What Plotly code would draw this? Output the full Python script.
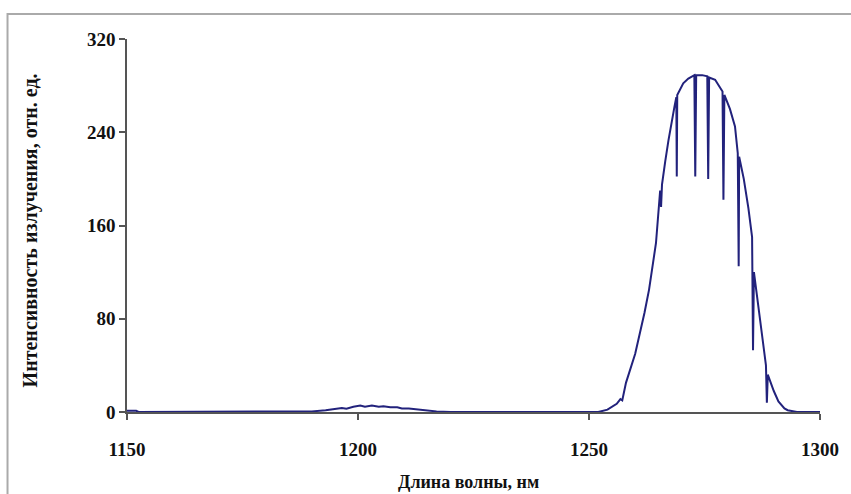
import plotly.graph_objects as go

# Wavelength (nm) and emission intensity (rel. units)
wavelength = [1150, 1152, 1152.5, 1187, 1190, 1193, 1195, 1196.5, 1197.5, 1199, 1200.5,
              1201.5, 1203, 1204.5, 1205.5, 1207, 1208.5, 1209.5, 1211, 1213, 1215, 1217,
              1220, 1252, 1254, 1256, 1256.8, 1257.2, 1258, 1260, 1262, 1263, 1264.5,
              1265.4, 1265.6, 1265.8, 1266.5, 1267.2, 1268.5, 1268.9, 1269.0, 1269.1,
              1270.4, 1271.5, 1272.8, 1273.0, 1273.2, 1274.5, 1275.6, 1275.8, 1276.0,
              1277.3, 1278.9, 1279.1, 1279.3, 1280.5, 1281.6, 1282.2, 1282.4, 1282.5,
              1283.5, 1284.5, 1285.3, 1285.5, 1285.7, 1286.5, 1287.5, 1288.3, 1288.5,
              1288.7, 1290, 1291, 1292.3, 1293, 1295, 1300]
intensity = [1, 1, 0, 0, 0.5, 1.5, 3, 3.5, 2.8, 4.5, 5.5,
             4.5, 5.5, 4.5, 5, 4, 4, 3, 3, 2, 1, 0.5,
             0, 0, 2, 7, 11, 10, 25, 50, 85, 105, 145,
             190, 176, 195, 215, 233, 262, 270, 202, 272,
             282, 286, 289, 202, 289, 289, 288, 200, 287,
             285, 275, 182, 272, 260, 245, 222, 125, 219,
             200, 175, 150, 53, 120, 95, 65, 40, 8,
             32, 18, 9, 3, 1.5, 0, 0]

x_ticks = [1150, 1200, 1250, 1300]
y_ticks = [0, 80, 160, 240, 320]

x_title = "Длина волны, нм"
y_title = "Интенсивность излучения, отн. ед."

FONT = "Liberation Serif"

fig = go.Figure()
fig.add_trace(go.Scatter(
    x=wavelength, y=intensity, mode="lines",
    line=dict(color="#22227c", width=2),
    showlegend=False, hoverinfo="skip",
))

L, R, T, B = 127, 28, 39, 82
W, H = 851, 494
pw, ph = W - L - R, H - T - B

def px_to_paper_x(px):
    return (px - L) / pw

def px_to_paper_y(py):
    return (H - B - py) / ph

fig.update_layout(
    width=W, height=H,
    margin=dict(l=L, r=R, t=T, b=B),
    paper_bgcolor="white", plot_bgcolor="white",
    font=dict(family=FONT, size=19, color="black"),
    xaxis=dict(
        range=[1150, 1300], tickvals=x_ticks, ticktext=[str(v) for v in x_ticks],
        showgrid=False, zeroline=False, showline=True, linecolor="#555", linewidth=1.5,
        ticks="outside", ticklen=6, tickcolor="#555", tickwidth=1.5,
        ticklabelstandoff=13,
        tickfont=dict(family=FONT, size=19, color="#111", weight="bold"),
    ),
    yaxis=dict(
        range=[0, 320], tickvals=y_ticks, ticktext=[str(v) for v in y_ticks],
        showgrid=False, zeroline=False, showline=True, linecolor="#555", linewidth=1.5,
        ticks="outside", ticklen=6, tickcolor="#555", tickwidth=1.5,
        ticklabelstandoff=0,
        tickfont=dict(family=FONT, size=19, color="#111", weight="bold"),
    ),
    annotations=[
        dict(text="<b>" + x_title + "</b>", xref="paper", yref="paper",
             x=px_to_paper_x(470), y=px_to_paper_y(482), xanchor="center", yanchor="middle",
             showarrow=False, font=dict(family=FONT, size=18, color="#111")),
        dict(text="<b>" + y_title + "</b>", xref="paper", yref="paper",
             x=px_to_paper_x(30), y=px_to_paper_y(230), xanchor="center", yanchor="middle",
             textangle=-90, showarrow=False, font=dict(family=FONT, size=20, color="#111")),
    ],
    shapes=[
        dict(type="rect", xref="paper", yref="paper", layer="below",
             x0=px_to_paper_x(7), x1=px_to_paper_x(900),
             y0=px_to_paper_y(560), y1=px_to_paper_y(14),
             line=dict(color="#aaaaaa", width=2), fillcolor="rgba(0,0,0,0)"),
    ],
)

fig.write_html("out.html")
